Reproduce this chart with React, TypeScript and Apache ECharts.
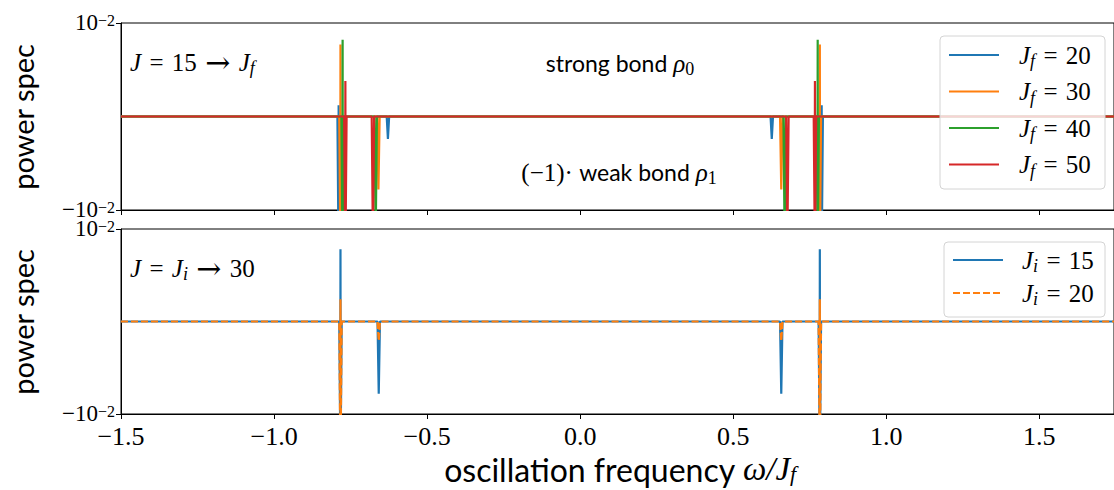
import React, { useEffect, useRef } from 'react';
import * as echarts from 'echarts';

// x range (omega / J_f)
const X_MIN = -1.5;
const X_MAX = 1.744;
const xTickValues = [-1.5, -1.0, -0.5, 0.0, 0.5, 1.0, 1.5];
// symlog y axis shown in display units: +1 = 10^-2, -1 = -10^-2
const yTickValues = [-1, 1];

// spikes: [omega, peak above baseline, dip below baseline] (display units)
const topJf20 = [[-0.789, 0.12, -1.3], [-0.628, 0, -0.24], [0.626, 0, -0.24], [0.789, 0.12, -1.3]];
const topJf30 = [[-0.783, 0.77, -1.3], [-0.659, 0, -0.78], [0.657, 0, -0.78], [0.783, 0.77, -1.3]];
const topJf40 = [[-0.776, 0.82, -1.3], [-0.668, 0, -1.3], [0.668, 0, -1.3], [0.776, 0.82, -1.3]];
const topJf50 = [[-0.767, 0.38, -1.3], [-0.677, 0, -1.3], [0.677, 0, -1.3], [0.767, 0.38, -1.3]];

const botJi15 = [[-0.783, 0.78, -1.3], [-0.658, 0, -0.78], [0.657, 0, -0.78], [0.783, 0.78, -1.3]];
const botJi20 = [[-0.783, 0.24, -1.3], [-0.658, 0, -0.21], [0.657, 0, -0.21], [0.783, 0.24, -1.3]];

const topNames = ['20', '30', '40', '50'];
const botNames = ['15', '20'];
const colors = ['#1f77b4', '#ff7f0e', '#2ca02c', '#d62728'];

function buildLine(spikes: number[][]) {
  const pts: number[][] = [[X_MIN, 0]];
  for (const [x, up, dip] of spikes) {
    if (up > 0) {
      pts.push([x - 0.004, 0], [x - 0.0006, dip], [x, up], [x + 0.0006, dip], [x + 0.004, 0]);
    } else {
      pts.push([x - 0.004, 0], [x, dip], [x + 0.004, 0]);
    }
  }
  pts.push([X_MAX, 0]);
  return pts;
}

const SERIF = 'Liberation Serif';
const SANS = 'Lato';
const SP = '\u2004';

const mathRich = {
  i: { fontFamily: SERIF, fontStyle: 'italic', fontSize: 25, color: '#000', lineHeight: 30, verticalAlign: 'middle' },
  n: { fontFamily: SERIF, fontSize: 25, color: '#000', lineHeight: 30, verticalAlign: 'middle' },
  ar: { fontFamily: 'DejaVu Serif', fontSize: 30, color: '#000', lineHeight: 30, verticalAlign: 'middle' },
  sub: { fontFamily: SERIF, fontStyle: 'italic', fontSize: 18, color: '#000', lineHeight: 30, verticalAlign: 'bottom' },
  s: { fontFamily: SANS, fontSize: 23, color: '#000', lineHeight: 30, verticalAlign: 'middle' },
  subn: { fontFamily: SERIF, fontSize: 18, color: '#000', lineHeight: 30, verticalAlign: 'bottom' },
};

export default function App() {
  const ref = useRef<HTMLDivElement>(null);
  useEffect(() => {
    if (!ref.current) return;
    const chart = echarts.init(ref.current, null, { renderer: 'svg' });
    const grids = [
      { left: 121, top: 23, right: -2, height: 187 },
      { left: 121, top: 229, right: -2, height: 185 },
    ].map((g) => ({ ...g, show: true, borderColor: '#000', borderWidth: 1, backgroundColor: 'transparent' }));

    const xAxis = [0, 1].map((i) => ({
      type: 'value',
      gridIndex: i,
      min: X_MIN,
      max: X_MAX,
      axisLine: { show: true, onZero: false, lineStyle: { color: '#000', width: 1 } },
      axisTick: { show: true, inside: false, length: 5, lineStyle: { color: '#000' }, customValues: xTickValues },
      axisLabel: {
        show: i === 1,
        customValues: xTickValues,
        fontFamily: SERIF,
        fontSize: 26,
        lineHeight: 18,
        color: '#000',
        margin: 13,
        formatter: (v: number) => (v < 0 ? '\u2212' : '') + Math.abs(v).toFixed(1),
      },
      splitLine: { show: false },
    }));

    const yAxis = [0, 1].map((i) => ({
      type: 'value',
      gridIndex: i,
      min: -1,
      max: 1,
      axisLine: { show: true, onZero: false, lineStyle: { color: '#000', width: 1 } },
      axisTick: { show: true, length: 5, lineStyle: { color: '#000' }, customValues: yTickValues },
      axisLabel: {
        customValues: yTickValues,
        margin: 6,
        formatter: (v: number) => (v > 0 ? '{b|10}{e|\u22122}' : '{b|\u221210}{e|\u22122}'),
        rich: {
          b: { fontFamily: SERIF, fontSize: 23, color: '#000', lineHeight: 22, verticalAlign: 'bottom' },
          e: { fontFamily: SERIF, fontSize: 16, color: '#000', lineHeight: 22, verticalAlign: 'top' },
        },
      },
      splitLine: { show: false },
    }));

    const series: any[] = [];
    [topJf20, topJf30, topJf40, topJf50].forEach((sp, k) => {
      series.push({
        type: 'line', name: 'Jf=' + topNames[k], xAxisIndex: 0, yAxisIndex: 0,
        data: buildLine(sp), showSymbol: false, symbol: 'none', clip: true,
        lineStyle: { color: colors[k], width: 2.2 }, itemStyle: { color: colors[k] },
      });
    });
    [botJi15, botJi20].forEach((sp, k) => {
      series.push({
        type: 'line', name: 'Ji=' + botNames[k], xAxisIndex: 1, yAxisIndex: 1,
        data: buildLine(sp), showSymbol: false, symbol: 'none', clip: true,
        lineStyle: { color: colors[k], width: 2.2, type: k === 1 ? [7, 3] : 'solid' }, itemStyle: { color: colors[k] },
      });
    });

    const legendTop: any[] = [
      { type: 'rect', shape: { x: 940, y: 36, width: 165, height: 153, r: 4 }, style: { fill: 'rgba(255,255,255,0.8)', stroke: '#d4d4d4', lineWidth: 1 }, z: 100 },
    ];
    topNames.forEach((n, k) => {
      const y = 55 + k * 36.5;
      legendTop.push({ type: 'line', shape: { x1: 949, y1: y, x2: 999, y2: y }, style: { stroke: colors[k], lineWidth: 2 }, z: 101 });
      legendTop.push({ type: 'text', x: 1019, y, z: 101, style: { text: `{i|J}{sub|f}{n|${SP}=${SP}${n}}`, rich: mathRich, align: 'left', verticalAlign: 'middle' } });
    });
    const legendBot: any[] = [
      { type: 'rect', shape: { x: 944, y: 242, width: 161, height: 75, r: 4 }, style: { fill: 'rgba(255,255,255,0.8)', stroke: '#d4d4d4', lineWidth: 1 }, z: 100 },
    ];
    botNames.forEach((n, k) => {
      const y = 260 + k * 33;
      legendBot.push({ type: 'line', shape: { x1: 953, y1: y, x2: 1003, y2: y }, style: { stroke: colors[k], lineWidth: 2, lineDash: k === 1 ? [7, 3] : null }, z: 101 });
      legendBot.push({ type: 'text', x: 1022, y, z: 101, style: { text: `{i|J}{sub|i}{n|${SP}=${SP}${n}}`, rich: mathRich, align: 'left', verticalAlign: 'middle' } });
    });

    const texts: any[] = [
      { type: 'text', x: 130, y: 62, z: 50, style: { text: `{i|J}{n|${SP}=${SP}15${SP}}{ar|\u2192}{n|${SP}}{i|J}{sub|f}`, rich: mathRich, align: 'left', verticalAlign: 'middle' } },
      { type: 'text', x: 130, y: 268, z: 50, style: { text: `{i|J}{n|${SP}=${SP}}{i|J}{sub|i}{n|${SP}}{ar|\u2192}{n|${SP}30}`, rich: mathRich, align: 'left', verticalAlign: 'middle' } },
      { type: 'text', x: 620, y: 63, z: 50, style: { text: '{s|strong bond }{i|\u03c1}{subn|0}', rich: mathRich, align: 'center', verticalAlign: 'middle' } },
      { type: 'text', x: 619, y: 172, z: 50, style: { text: '{n|(\u22121)\u00b7 }{s|weak bond }{i|\u03c1}{subn|1}', rich: mathRich, align: 'center', verticalAlign: 'middle' } },
      { type: 'text', x: 22, y: 117, rotation: Math.PI / 2, z: 50, style: { text: 'power spec', font: `29px ${SANS}`, fill: '#000', align: 'center', verticalAlign: 'middle' } },
      { type: 'text', x: 22, y: 322, rotation: Math.PI / 2, z: 50, style: { text: 'power spec', font: `29px ${SANS}`, fill: '#000', align: 'center', verticalAlign: 'middle' } },
      {
        type: 'text', x: 620, y: 469, z: 50,
        style: {
          text: '{a|oscillation frequency }{m|\u03c9/J}{q|f}',
          align: 'center', verticalAlign: 'middle',
          rich: {
            a: { fontFamily: SANS, fontSize: 32, color: '#000', lineHeight: 30, verticalAlign: 'middle' },
            m: { fontFamily: SERIF, fontStyle: 'italic', fontSize: 33, color: '#000', lineHeight: 30, verticalAlign: 'middle' },
            q: { fontFamily: SERIF, fontStyle: 'italic', fontSize: 22, color: '#000', lineHeight: 30, verticalAlign: 'bottom' },
          },
        },
      },
    ];

    chart.setOption({
      animation: false,
      backgroundColor: '#fff',
      grid: grids,
      xAxis,
      yAxis,
      series,
      graphic: [...texts, ...legendTop, ...legendBot],
    });
    return () => chart.dispose();
  }, []);
  return <div ref={ref} style={{ position: 'fixed', left: 0, top: 0, width: 1114, height: 490 }} />;
}
